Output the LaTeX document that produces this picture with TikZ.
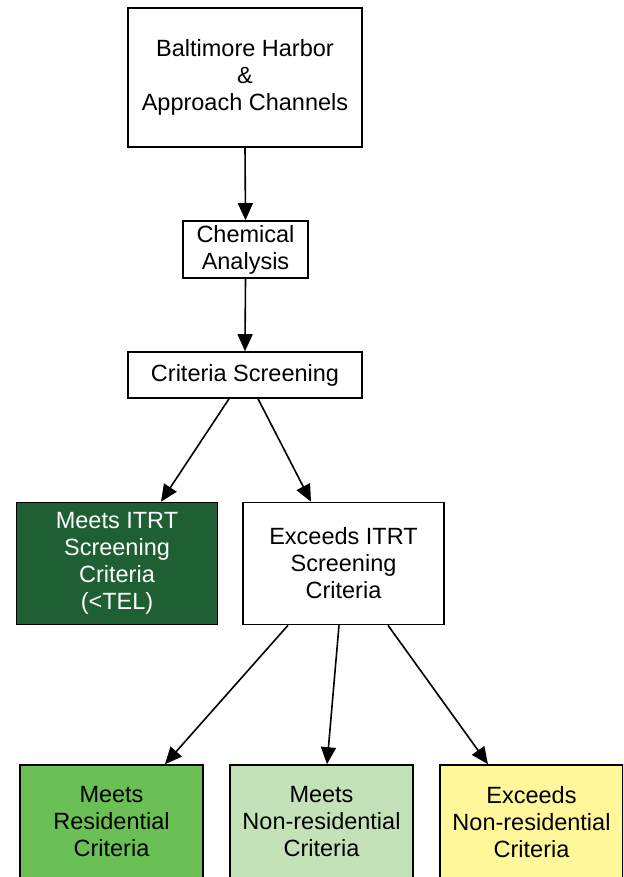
\documentclass[tikz,border=0pt]{standalone}
\usepackage{fontspec}
\setmainfont{Liberation Sans}
\usetikzlibrary{arrows.meta}
\definecolor{dkgreen}{HTML}{1E6034}
\definecolor{mdgreen}{HTML}{6ABF55}
\definecolor{ltgreen}{HTML}{C4E2B8}
\definecolor{ltyellow}{HTML}{FFF799}
\begin{document}
\begin{tikzpicture}[x=1pt,y=-1pt,
  box/.style={draw=black,line width=1.6pt,rectangle,align=center,inner sep=0pt,
    font=\fontsize{23.5}{27}\selectfont},
  arr/.style={-{Triangle[length=17pt,width=15pt]},line width=1.6pt}]
\useasboundingbox (0,0) rectangle (623,877);
\clip (0,0) rectangle (623,877);
\node[box,minimum width=234pt,minimum height=139pt] (top) at (245,77.5) {Baltimore Harbor\\\&\\Approach Channels};
\node[box,minimum width=125pt,minimum height=57pt] (chem) at (245.5,249.5) {Chemical\\Analysis};
\node[box,minimum width=234pt,minimum height=46pt] (crit) at (245,375) {Criteria Screening};
\node[box,fill=dkgreen,text=white,minimum width=201pt,minimum height=122pt] (meets) at (117,563.5) {Meets ITRT\\Screening\\Criteria\\(<TEL)};
\node[box,minimum width=201pt,minimum height=122pt] (exc) at (343.5,563.5) {Exceeds ITRT\\Screening\\Criteria};
\node[box,fill=mdgreen,minimum width=183pt,minimum height=114pt] (res) at (111.5,822) {Meets\\Residential\\Criteria};
\node[box,fill=ltgreen,minimum width=183pt,minimum height=114pt] (nonres) at (321.5,822) {Meets\\Non-residential\\Criteria};
\node[box,fill=ltyellow,minimum width=183pt,minimum height=114pt] (exnon) at (531.5,822) {Exceeds\\Non-residential\\Criteria};
\draw[arr] (top.south) -- (chem.north);
\draw[arr] (chem.south) -- (crit.north);
\draw[arr] (crit.south -| 229,0) -- (meets.north -| 161,0);
\draw[arr] (crit.south -| 258,0) -- (exc.north -| 311,0);
\draw[arr] (exc.south -| 288,0) -- (res.north -| 165,0);
\draw[arr] (exc.south -| 339,0) -- (nonres.north -| 327,0);
\draw[arr] (exc.south -| 388,0) -- (exnon.north -| 488,0);
\end{tikzpicture}
\end{document}
